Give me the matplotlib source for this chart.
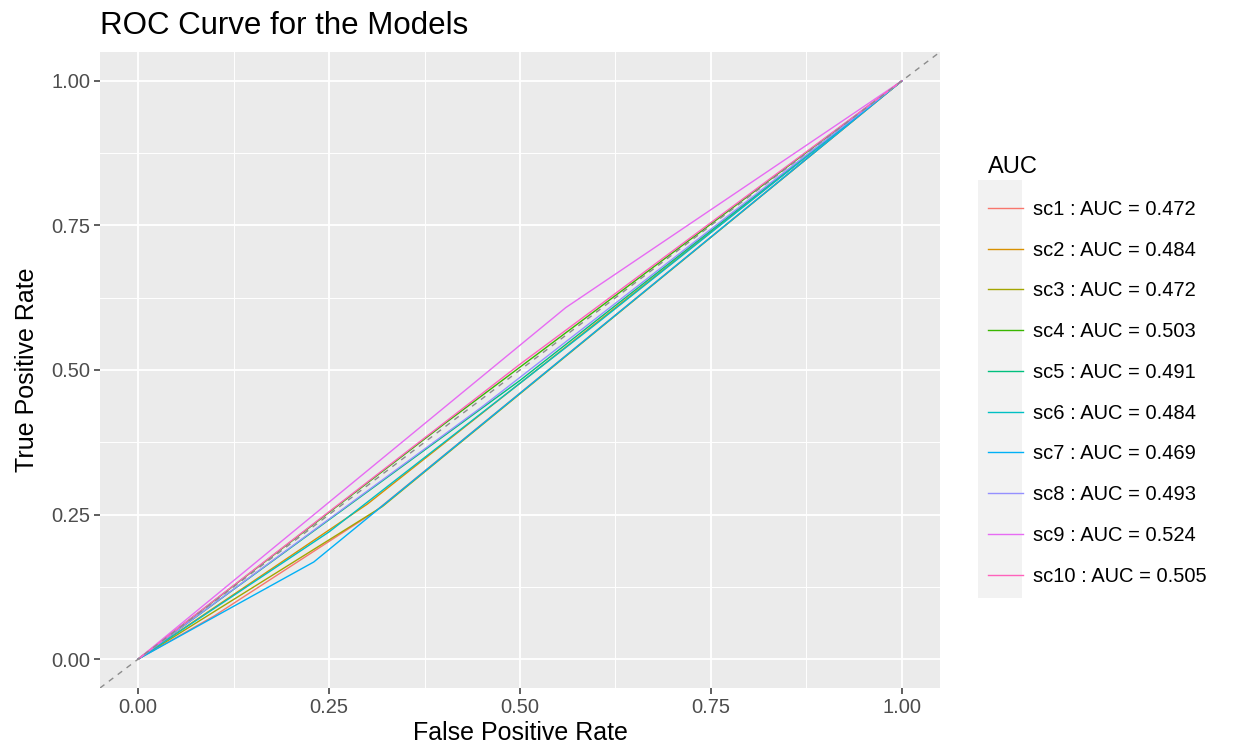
import matplotlib
matplotlib.use("Agg")
import matplotlib.pyplot as plt
from matplotlib.patches import Rectangle

plt.rcParams['font.family'] = ['Liberation Sans', 'DejaVu Sans']

# ROC curve knots (FPR, TPR)
models = ["sc1", "sc2", "sc3", "sc4", "sc5", "sc6", "sc7", "sc8", "sc9", "sc10"]
auc = [0.472, 0.484, 0.472, 0.503, 0.491, 0.484, 0.469, 0.493, 0.524, 0.505]
fpr = [
    [0, 0.10, 0.31, 1],
    [0, 0.30, 1],
    [0, 0.32, 1],
    [0, 0.40, 1],
    [0, 0.50, 1],
    [0, 0.25, 0.60, 1],
    [0, 0.23, 1],
    [0, 0.45, 1],
    [0, 0.56, 1],
    [0, 0.50, 1],
]
tpr = [
    [0, 0.075, 0.255, 1],
    [0, 0.268, 1],
    [0, 0.264, 1],
    [0, 0.406, 1],
    [0, 0.482, 1],
    [0, 0.220, 0.580, 1],
    [0, 0.168, 1],
    [0, 0.436, 1],
    [0, 0.608, 1],
    [0, 0.510, 1],
]
colors = ["#F8766D", "#D89000", "#A3A500", "#39B600", "#00BF7D",
          "#00BFC4", "#00B0F6", "#9590FF", "#E76BF3", "#FF62BC"]
ticks = [0, 0.25, 0.5, 0.75, 1]
tick_labels = ["0.00", "0.25", "0.50", "0.75", "1.00"]

fig = plt.figure(figsize=(12.37, 7.54), dpi=100)
ax = fig.add_axes([100 / 1237, 1 - 688 / 754, 840 / 1237, 636 / 754])
ax.set_facecolor("#EBEBEB")
for s in ax.spines.values():
    s.set_visible(False)

ax.set_xlim(-0.05, 1.05)
ax.set_ylim(-0.05, 1.05)
ax.set_xticks(ticks)
ax.set_xticklabels(tick_labels)
ax.set_yticks(ticks)
ax.set_yticklabels(tick_labels)
ax.set_xticks([0.125, 0.375, 0.625, 0.875], minor=True)
ax.set_yticks([0.125, 0.375, 0.625, 0.875], minor=True)
ax.grid(which="major", color="white", lw=1.3)
ax.grid(which="minor", color="white", lw=0.7)
ax.set_axisbelow(True)
ax.tick_params(which="major", length=4, width=1.1, color="#333333",
               labelcolor="#4D4D4D", labelsize=14.5, pad=3)
ax.tick_params(which="minor", length=0)

for i, m in enumerate(models):
    ax.plot(fpr[i], tpr[i], color=colors[i], lw=1.0,
            label=f"{m} : AUC = {auc[i]:.3f}")

ax.plot([-0.05, 1.05], [-0.05, 1.05], ls=(0, (4, 4)), color="#8C8C8C", lw=1.0)

ax.set_xlabel("False Positive Rate", fontsize=18, color="black", labelpad=3)
ax.set_ylabel("True Positive Rate", fontsize=18, color="black", labelpad=9)
fig.text(100 / 1237, 1 - 26 / 754, "ROC Curve for the Models", fontsize=22.5,
         va="center", ha="left")

fig.patches.append(Rectangle((978 / 1237, 1 - 598 / 754), 44 / 1237, 418 / 754,
                             transform=fig.transFigure, facecolor="#F2F2F2",
                             edgecolor="none", zorder=0))
leg = fig.legend(loc="upper left", bbox_to_anchor=(970 / 1237, 1 - 138 / 754),
                 frameon=False, fontsize=14.5, title="AUC", title_fontsize=17,
                 handlelength=1.75, handletextpad=0.5, labelspacing=1.08,
                 alignment="left")

fig.savefig("out.png", dpi=100)
